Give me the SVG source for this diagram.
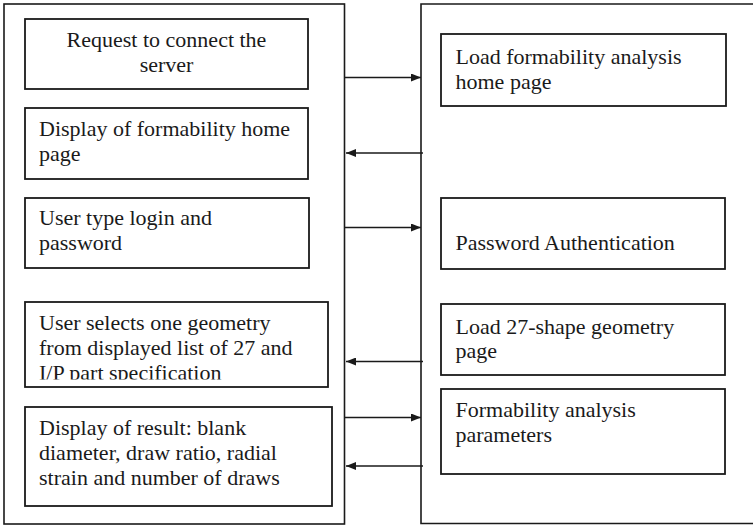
<svg xmlns="http://www.w3.org/2000/svg" width="753" height="526" viewBox="0 0 753 526">
  <style>
    .frame { fill: none; stroke: #1a1a1a; stroke-width: 1.6; }
    .box { fill: #fff; stroke: #1a1a1a; stroke-width: 1.8; }
    .label { font-family: "Liberation Serif", "Times New Roman", serif; font-size: 22px; fill: #1a1a1a; }
    .mid { text-anchor: middle; }
    .conn { stroke: #1a1a1a; stroke-width: 1.6; fill: none; marker-end: url(#head); }
  </style>
  <defs>
    <marker id="head" viewBox="0 0 10 8" refX="10" refY="4" markerWidth="10" markerHeight="8" markerUnits="userSpaceOnUse" orient="auto">
      <path d="M0,0 L10,4 L0,8 Z" fill="#1a1a1a"/>
    </marker>
    <clipPath id="clip-select">
      <rect x="25" y="302" width="303" height="77.5"/>
    </clipPath>
  </defs>
  <rect width="753" height="526" fill="#fff"/>

  <!-- client column -->
  <g id="client">
    <rect class="frame" x="4" y="4" width="340.5" height="520"/>
  </g>
  <!-- server column (open on the right) -->
  <g id="server">
    <path class="frame" d="M753,4 H421 V523.5 H753"/>
  </g>

  <g id="request">
    <rect class="box" x="25" y="19" width="283" height="70"/>
    <text class="label mid" x="166.5" y="46.5">Request to connect the</text>
    <text class="label mid" x="166.5" y="71.5">server</text>
  </g>
  <g id="display-home">
    <rect class="box" x="25" y="108" width="283" height="71"/>
    <text class="label" x="39" y="136">Display of formability home</text>
    <text class="label" x="39" y="161">page</text>
  </g>
  <g id="login">
    <rect class="box" x="25" y="198" width="284" height="70"/>
    <text class="label" x="39" y="225">User type login and</text>
    <text class="label" x="39" y="250">password</text>
  </g>
  <g id="select-geometry">
    <rect class="box" x="25" y="302" width="303" height="85"/>
    <g clip-path="url(#clip-select)">
      <text class="label" x="39" y="330">User selects one geometry</text>
      <text class="label" x="39" y="355">from displayed list of 27 and</text>
      <text class="label" x="39" y="380">I/P part specification</text>
    </g>
  </g>
  <g id="display-result">
    <rect class="box" x="25" y="407" width="307" height="99"/>
    <text class="label" x="39" y="435">Display of result: blank</text>
    <text class="label" x="39" y="460">diameter, draw ratio, radial</text>
    <text class="label" x="39" y="485">strain and number of draws</text>
  </g>

  <g id="load-home">
    <rect class="box" x="441" y="34" width="285" height="72"/>
    <text class="label" x="455.5" y="63.5">Load formability analysis</text>
    <text class="label" x="455.5" y="88.5">home page</text>
  </g>
  <g id="authentication">
    <rect class="box" x="441" y="198" width="284" height="71"/>
    <text class="label" x="455.5" y="249.5">Password Authentication</text>
  </g>
  <g id="load-geometry">
    <rect class="box" x="441" y="304" width="284" height="71"/>
    <text class="label" x="455.5" y="333.5">Load 27-shape geometry</text>
    <text class="label" x="455.5" y="358">page</text>
  </g>
  <g id="parameters">
    <rect class="box" x="441" y="389" width="284" height="85"/>
    <text class="label" x="455.5" y="417">Formability analysis</text>
    <text class="label" x="455.5" y="442">parameters</text>
  </g>

  <g id="connectors">
    <line class="conn" x1="345" y1="77.5" x2="421" y2="77.5"/>
    <line class="conn" x1="423" y1="153" x2="346" y2="153"/>
    <line class="conn" x1="345" y1="227.5" x2="421" y2="227.5"/>
    <line class="conn" x1="423" y1="361.5" x2="346" y2="361.5"/>
    <line class="conn" x1="345" y1="417.5" x2="421" y2="417.5"/>
    <line class="conn" x1="423" y1="466" x2="346" y2="466"/>
  </g>
</svg>
